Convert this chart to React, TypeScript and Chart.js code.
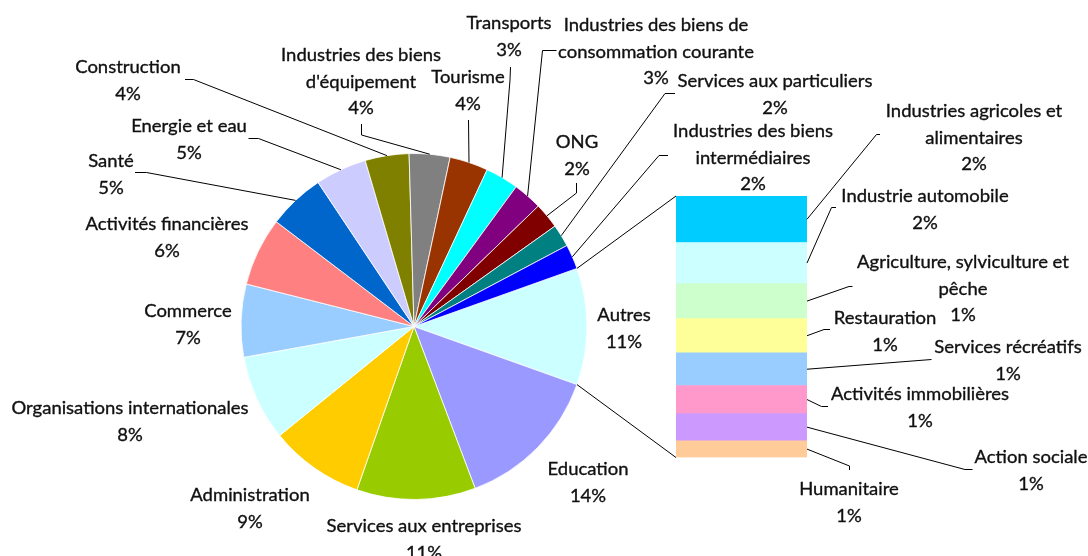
import React, { useEffect, useRef } from "react";
import { Chart, registerables } from "chart.js";

Chart.register(...registerables);

// ---------- DATA ----------
// Pie slices, clockwise after "Autres" (which is the sum of the bar breakdown)
const pieCategories = [
  "Education",
  "Services aux entreprises",
  "Administration",
  "Organisations internationales",
  "Commerce",
  "Activités financières",
  "Santé",
  "Energie et eau",
  "Construction",
  "Industries des biens\nd'équipement",
  "Tourisme",
  "Transports",
  "Industries des biens de\nconsommation courante",
  "ONG",
  "Services aux particuliers",
  "Industries des biens\nintermédiaires",
];
const pieValues = [13.8, 11.1, 8.8, 8.0, 6.8, 6.4, 5.3, 4.8, 4.1, 3.8, 3.6, 3.1, 2.7, 2.4, 2.1, 2.3];
const pieColors = [
  "#9999FF", "#99CC00", "#FFCC00", "#CCFFFF", "#99CCFF", "#FF8080", "#0066CC", "#CCCCFF",
  "#808000", "#808080", "#993300", "#00FFFF", "#800080", "#800000", "#008080", "#0000FF",
];
const otherCategory = "Autres";
const otherColor = "#CCFFFF";

// Bar breakdown of "Autres", top to bottom
const barCategories = [
  "Industries agricoles et\nalimentaires",
  "Industrie automobile",
  "Agriculture, sylviculture et\npêche",
  "Restauration",
  "Services récréatifs",
  "Activités immobilières",
  "Action sociale",
  "Humanitaire",
];
const barValues = [1.94, 1.71, 1.46, 1.43, 1.36, 1.17, 1.13, 0.7];
const barColors = ["#00CCFF", "#CCFFFF", "#CCFFCC", "#FFFF99", "#99CCFF", "#FF99CC", "#CC99FF", "#FFCC99"];

// ---------- LAYOUT (label anchors & leader elbows) ----------
type Pt = [number, number];
type LabelPos = { x: number; y: number; leader?: Pt[] };

const otherLabelPos: LabelPos = { x: 624, y: 315 };
const pieLabelPos: LabelPos[] = [
  { x: 588, y: 469 },
  { x: 424, y: 526 },
  { x: 250, y: 495 },
  { x: 130, y: 408 },
  { x: 188, y: 311 },
  { x: 167, y: 224 },
  { x: 111, y: 161, leader: [[135, 172.5], [146.5, 172.5]] },
  { x: 189, y: 126, leader: [[248.5, 138.5], [258.5, 138.5]] },
  { x: 128, y: 67, leader: [[185, 79.5], [193.5, 79.5]] },
  { x: 361, y: 55, leader: [[361.5, 124], [361.5, 135]] },
  { x: 468, y: 77, leader: [[468.5, 120]] },
  { x: 509, y: 23, leader: [[510.5, 67], [510, 80]] },
  { x: 656, y: 25, leader: [[556.5, 50.5], [542.5, 50.5]] },
  { x: 577, y: 142, leader: [[576.5, 183], [576.5, 193]] },
  { x: 775, y: 81, leader: [[675, 93.5], [665, 93.5]] },
  { x: 753, y: 131, leader: [[668, 155.5], [659, 155.5]] },
];
const barLabelPos: LabelPos[] = [
  { x: 974, y: 111, leader: [[880, 134.5], [876.5, 134.5]] },
  { x: 925, y: 196, leader: [[836, 207.5], [831.5, 207.5]] },
  { x: 963, y: 262, leader: [[852.5, 286.5], [849, 286.5]] },
  { x: 885, y: 318, leader: [[830, 329.5], [824, 329.5]] },
  { x: 1008, y: 347, leader: [[931.5, 359.5]] },
  { x: 920, y: 394, leader: [[828, 406.5], [821.5, 406.5]] },
  { x: 1031, y: 457, leader: [[972.5, 469.5], [965, 469.5]] },
  { x: 849, y: 489, leader: [[849.5, 470], [849.5, 466]] },
];

const W = 1088;
const H = 556;
const PIE_CX = 414;
const PIE_CY = 326.5;
const PIE_R = 173;
const BAR_LEFT = 676;
const BAR_RIGHT = 807;
const BAR_TOP = 196;
const BAR_BOTTOM = 457.5;

const FONT_FAMILY = "Lato, 'Open Sans', sans-serif";
const FONT_SIZE = 18;
const LINE_H = 26.5;
const REF_TEXT = "Organisations internationales";
const REF_WIDTH = 237;

const otherValue = barValues.reduce((a, b) => a + b, 0);
const total = otherValue + pieValues.reduce((a, b) => a + b, 0);
const pct = (v: number) => Math.round((v / total) * 100) + "%";

function setFont(ctx: CanvasRenderingContext2D) {
  ctx.font = `${FONT_SIZE}px ${FONT_FAMILY}`;
  ctx.fillStyle = "#111";
  ctx.strokeStyle = "#111";
  ctx.lineWidth = 0.35;
  ctx.textAlign = "center";
  ctx.textBaseline = "alphabetic";
}

function drawLabel(ctx: CanvasRenderingContext2D, text: string, pos: LabelPos, sx: number) {
  const lines = text.split("\n");
  const capHalf = FONT_SIZE * 0.358;
  lines.forEach((ln, i) => {
    ctx.save();
    ctx.translate(pos.x, pos.y + i * LINE_H + capHalf);
    ctx.scale(sx, 1);
    ctx.fillText(ln, 0, 0);
    ctx.strokeText(ln, 0, 0);
    ctx.restore();
  });
}

function drawLeader(ctx: CanvasRenderingContext2D, pts: Pt[], target: Pt) {
  ctx.save();
  ctx.strokeStyle = "#000";
  ctx.lineWidth = 1;
  ctx.beginPath();
  ctx.moveTo(pts[0][0], pts[0][1]);
  for (let i = 1; i < pts.length; i++) ctx.lineTo(pts[i][0], pts[i][1]);
  ctx.lineTo(target[0], target[1]);
  ctx.stroke();
  ctx.restore();
}

function textScale(ctx: CanvasRenderingContext2D) {
  setFont(ctx);
  const w = ctx.measureText(REF_TEXT).width;
  return w > 0 ? REF_WIDTH / w : 1;
}

export default function App() {
  const pieRef = useRef<HTMLCanvasElement>(null);
  const barRef = useRef<HTMLCanvasElement>(null);

  useEffect(() => {
    if (!pieRef.current || !barRef.current) return;

    const pieLabels = [otherCategory, ...pieCategories];
    const pieData = [otherValue, ...pieValues];
    const pieCols = [otherColor, ...pieColors];
    const positions = [otherLabelPos, ...pieLabelPos];

    const pieLabelPlugin = {
      id: "pieLabels",
      afterDraw(chart: any) {
        const ctx = chart.ctx as CanvasRenderingContext2D;
        const sx = textScale(ctx);
        const meta = chart.getDatasetMeta(0);
        meta.data.forEach((arc: any, i: number) => {
          const p = arc.getProps(["x", "y", "startAngle", "endAngle", "outerRadius"], true);
          const mid = (p.startAngle + p.endAngle) / 2;
          const pos = positions[i];
          if (pos.leader) {
            drawLeader(ctx, pos.leader, [p.x + Math.cos(mid) * p.outerRadius, p.y + Math.sin(mid) * p.outerRadius]);
          }
          setFont(ctx);
          drawLabel(ctx, pieLabels[i] + "\n" + pct(pieData[i]), pos, sx);
        });
      },
    };

    const pieChart = new Chart(pieRef.current, {
      type: "pie",
      data: {
        labels: pieLabels,
        datasets: [
          {
            data: pieData,
            backgroundColor: pieCols,
            borderColor: "#ffffff",
            borderWidth: 0.8,
          },
        ],
      },
      options: {
        responsive: false,
        animation: false,
        devicePixelRatio: 1,
        rotation: 90 - (otherValue / total) * 180,
        radius: PIE_R,
        layout: {
          padding: {
            left: PIE_CX - PIE_R,
            right: W - (PIE_CX + PIE_R),
            top: PIE_CY - PIE_R,
            bottom: H - (PIE_CY + PIE_R),
          },
        },
        plugins: { legend: { display: false }, tooltip: { enabled: false } },
      } as any,
      plugins: [pieLabelPlugin],
    });

    // bar: datasets bottom-up
    const order = barCategories.map((_, i) => i).reverse();

    const barLabelPlugin = {
      id: "barLabels",
      afterDraw(chart: any) {
        const ctx = chart.ctx as CanvasRenderingContext2D;
        const sx = textScale(ctx);
        let top = Infinity;
        let bottom = -Infinity;
        let left = 0;
        order.forEach((catIdx, dsIdx) => {
          const bar = chart.getDatasetMeta(dsIdx).data[0];
          const p = bar.getProps(["x", "y", "base", "width"], true);
          top = Math.min(top, p.y, p.base);
          bottom = Math.max(bottom, p.y, p.base);
          left = p.x - p.width / 2;
          const pos = barLabelPos[catIdx];
          if (pos.leader) drawLeader(ctx, pos.leader, [p.x + p.width / 2, (p.y + p.base) / 2]);
          setFont(ctx);
          drawLabel(ctx, barCategories[catIdx] + "\n" + pct(barValues[catIdx]), pos, sx);
        });
        // connectors from the "Autres" slice to the bar
        const arc = pieChart.getDatasetMeta(0).data[0] as any;
        const a = arc.getProps(["x", "y", "startAngle", "endAngle", "outerRadius"], true);
        ctx.save();
        ctx.strokeStyle = "#000";
        ctx.lineWidth = 1;
        ctx.beginPath();
        ctx.moveTo(a.x + Math.cos(a.startAngle) * a.outerRadius, a.y + Math.sin(a.startAngle) * a.outerRadius);
        ctx.lineTo(left, top);
        ctx.moveTo(a.x + Math.cos(a.endAngle) * a.outerRadius, a.y + Math.sin(a.endAngle) * a.outerRadius);
        ctx.lineTo(left, bottom);
        ctx.stroke();
        ctx.restore();
      },
    };

    const barChart = new Chart(barRef.current, {
      type: "bar",
      data: {
        labels: [otherCategory],
        datasets: order.map((i) => ({
          label: barCategories[i],
          data: [barValues[i]],
          backgroundColor: barColors[i],
          borderWidth: 0,
          barPercentage: 1,
          categoryPercentage: 1,
        })),
      },
      options: {
        responsive: false,
        animation: false,
        devicePixelRatio: 1,
        layout: {
          padding: { left: BAR_LEFT, right: W - BAR_RIGHT, top: BAR_TOP, bottom: H - BAR_BOTTOM },
        },
        scales: {
          x: { stacked: true, display: false },
          y: { stacked: true, display: false, min: 0, max: otherValue },
        },
        plugins: { legend: { display: false }, tooltip: { enabled: false } },
      } as any,
      plugins: [barLabelPlugin],
    });

    return () => {
      barChart.destroy();
      pieChart.destroy();
    };
  }, []);

  return (
    <div style={{ position: "fixed", left: 0, top: 0, width: W, height: H, background: "#fff" }}>
      <canvas ref={pieRef} width={W} height={H} style={{ position: "absolute", left: 0, top: 0, width: W, height: H }} />
      <canvas ref={barRef} width={W} height={H} style={{ position: "absolute", left: 0, top: 0, width: W, height: H }} />
    </div>
  );
}
